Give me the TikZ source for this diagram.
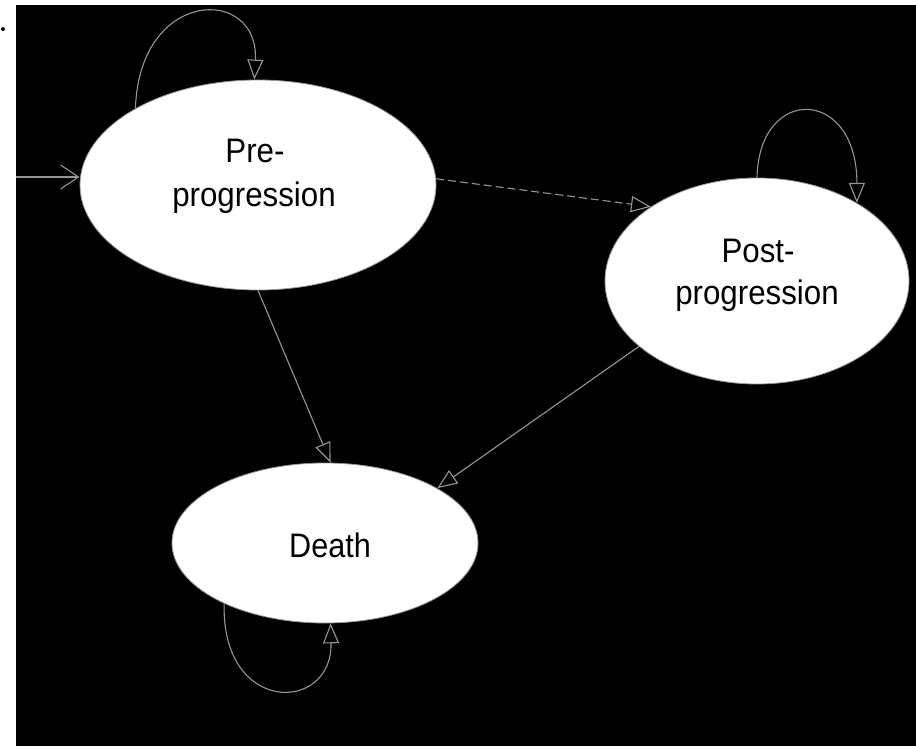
\documentclass[tikz,border=0pt]{standalone}
\usepackage{fontspec}
\setmainfont{Liberation Sans}
\usetikzlibrary{shapes.geometric,arrows.meta}
\definecolor{linegray}{RGB}{150,150,150}
\begin{document}
\begin{tikzpicture}[x=1pt,y=-1pt,
  state/.style={ellipse,draw=linegray,line width=0.8pt,fill=white,inner sep=0pt},
  txt/.style={anchor=base,text=black,font=\fontsize{34}{44}\selectfont,inner sep=0pt},
  conn/.style={draw=linegray,line width=1.1pt,-{Triangle[open,length=20pt,width=16pt]}},
  entry/.style={draw=linegray,line width=1.1pt,-{Straight Barb[length=18pt,width=24pt]}}]
\useasboundingbox (0,0) rectangle (916,746);
\fill[white] (0,0) rectangle (916,746);
\fill[black] (16,5) rectangle (916,746);
\fill[black] (3,29) circle (2);
% states
\node[state,minimum width=356pt,minimum height=210pt] (pre) at (258,185) {};
\node[state,minimum width=304pt,minimum height=206pt] (post) at (757,281) {};
\node[state,minimum width=306pt,minimum height=160pt] (death) at (325,543) {};
% texts
\node[txt] (pre1) at (255,163) {\scalebox{0.92}[1]{Pre-}};
\node[txt] (pre2) at (254,207) {\scalebox{0.92}[1]{progression}};
\node[txt] (post1) at (758,262) {\scalebox{0.92}[1]{Post-}};
\node[txt] (post2) at (757,305) {\scalebox{0.92}[1]{progression}};
\node[txt] (death1) at (330,557) {\scalebox{0.9}[1]{Death}};
% connectors
\coordinate (in) at (16,177);
\draw[entry] (in) -- (in -| pre.west);
\draw[conn,dash pattern=on 8pt off 4pt] (pre.2) -- (post.145);
\draw[conn] (pre.south) -- (death.86);
\draw[conn] (post.209) -- (death.26);
% self loops
\draw[conn] (pre.148) .. controls +(4,-121) and +(5,-94) .. (pre.92);
\draw[conn] (post.90) .. controls +(2,-93) and +(0,-116) .. (post.38);
\draw[conn] (death.211) .. controls +(-3,112) and +(2,90) .. (death.274);
\end{tikzpicture}
\end{document}
